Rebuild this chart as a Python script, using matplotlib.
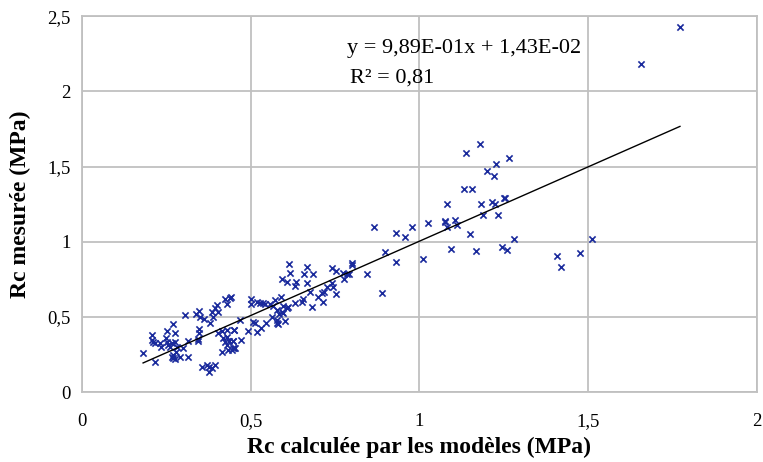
import numpy as np
import matplotlib
matplotlib.use("Agg")
from matplotlib import pyplot as plt

# Rc calculée (x) vs Rc mesurée (y)
rc_calc = [1.179, 1.138, 1.265, 1.227, 1.200, 1.221, 1.132, 1.156, 1.081, 1.182,
           1.215, 1.224, 1.250, 1.253, 1.076, 1.105, 1.081, 1.111, 1.188, 1.233,
           1.150, 1.280, 1.093, 1.167, 1.244, 1.259, 1.407, 1.419, 1.476, 1.511,
           1.772, 1.656,
           0.865, 0.930, 0.957, 0.978, 1.025, 1.076, 0.898, 0.930, 1.010, 0.800,
           0.800, 0.844, 0.889, 0.741, 0.752, 0.773, 0.785, 0.791, 0.776, 0.741,
           0.744, 0.752,
           0.613, 0.616, 0.667, 0.658, 0.684, 0.593, 0.607, 0.634, 0.631, 0.667,
           0.676, 0.726, 0.717, 0.711, 0.714, 0.681, 0.655, 0.652, 0.631, 0.699,
           0.501, 0.501, 0.519, 0.527, 0.536, 0.542, 0.557, 0.566, 0.572, 0.590,
           0.596, 0.607, 0.610, 0.578, 0.593, 0.584, 0.596, 0.563, 0.578, 0.578,
           0.581, 0.601, 0.468, 0.507, 0.513, 0.545, 0.530, 0.519, 0.492, 0.450,
           0.447, 0.471, 0.450, 0.444, 0.439,
           0.181, 0.216, 0.207, 0.207, 0.210, 0.216, 0.231, 0.234, 0.252, 0.249,
           0.252, 0.255, 0.261, 0.267, 0.270, 0.276, 0.276, 0.281, 0.279, 0.267,
           0.270, 0.276, 0.270, 0.290, 0.299, 0.314, 0.314, 0.305, 0.338, 0.347,
           0.350, 0.347, 0.347, 0.344, 0.344, 0.361, 0.379, 0.385, 0.388, 0.394,
           0.400, 0.403, 0.424, 0.430, 0.441, 0.356, 0.370, 0.376, 0.376, 0.394,
           0.385, 0.403, 0.415, 0.430, 0.450, 0.418, 0.424, 0.430, 0.430, 0.436,
           0.447, 0.415, 0.433, 0.447, 0.453]
rc_mes = [1.647, 1.588, 1.555, 1.515, 1.468, 1.435, 1.349, 1.349, 1.249, 1.249,
          1.262, 1.249, 1.289, 1.290, 1.136, 1.143, 1.096, 1.110, 1.176, 1.176,
          1.050, 1.017, 0.950, 0.937, 0.963, 0.944, 0.904, 0.831, 0.924, 1.017,
          2.425, 2.179,
          1.096, 1.056, 1.030, 1.096, 1.123, 1.130, 0.930, 0.864, 0.884, 0.857,
          0.844, 0.784, 0.658, 0.824, 0.804, 0.791, 0.784, 0.784, 0.751, 0.724,
          0.698, 0.651,
          0.850, 0.791, 0.831, 0.784, 0.784, 0.751, 0.731, 0.731, 0.704, 0.724,
          0.664, 0.698, 0.664, 0.658, 0.598, 0.565, 0.618, 0.598, 0.591, 0.631,
          0.618, 0.585, 0.598, 0.591, 0.591, 0.585, 0.585, 0.571, 0.611, 0.631,
          0.571, 0.558, 0.565, 0.545, 0.532, 0.518, 0.525, 0.498, 0.478, 0.458,
          0.452, 0.472, 0.478, 0.465, 0.458, 0.458, 0.425, 0.399, 0.405, 0.412,
          0.339, 0.346, 0.292, 0.279, 0.625,
          0.259, 0.199, 0.379, 0.346, 0.332, 0.326, 0.326, 0.299, 0.405, 0.359,
          0.332, 0.312, 0.299, 0.326, 0.452, 0.392, 0.332, 0.299, 0.266, 0.233,
          0.226, 0.219, 0.246, 0.233, 0.292, 0.233, 0.339, 0.512, 0.518, 0.538,
          0.498, 0.419, 0.392, 0.352, 0.339, 0.485, 0.458, 0.532, 0.498, 0.558,
          0.578, 0.532, 0.618, 0.585, 0.631, 0.166, 0.179, 0.166, 0.133, 0.179,
          0.159, 0.392, 0.405, 0.412, 0.412, 0.359, 0.332, 0.365, 0.312, 0.339,
          0.339, 0.266, 0.279, 0.292, 0.292]

slope = 0.989
intercept = 0.0143
x_ticks = [0, 0.5, 1, 1.5, 2]
x_tick_labels = ["0", "0,5", "1", "1,5", "2"]
y_ticks = [0, 0.5, 1, 1.5, 2, 2.5]
y_tick_labels = ["0", "0,5", "1", "1,5", "2", "2,5"]

plt.rcParams["font.family"] = ["Liberation Serif", "DejaVu Serif"]

fig = plt.figure(figsize=(7.63, 4.62), dpi=100)
ax = fig.add_axes([0.1075, 0.1515, 0.8845, 0.8135])

ax.scatter(rc_calc, rc_mes, marker="x", s=20, linewidths=1.2, color="#1a2a9c", zorder=3)

# linear trendline over the data range
xs = np.array([min(rc_calc), max(rc_calc)])
ax.plot(xs, slope * xs + intercept, color="black", linewidth=1, zorder=4)

ax.set_xlim(0, 2)
ax.set_ylim(0, 2.5)
ax.set_xticks(x_ticks)
ax.set_xticklabels(x_tick_labels)
ax.set_yticks(y_ticks)
ax.set_yticklabels(y_tick_labels)
ax.tick_params(length=0, labelsize=13.5)
ax.tick_params(axis="x", pad=15)
ax.tick_params(axis="y", pad=8)
ax.grid(True, color="#c0c0c0", linewidth=1.3)
ax.set_axisbelow(True)
for s in ax.spines.values():
    s.set_color("#c0c0c0")
    s.set_linewidth(1.3)

ax.text(0.785, 2.286, "y = 9,89E-01x + 1,43E-02", fontsize=16, va="center")
ax.text(0.793, 2.086, "R² = 0,81", fontsize=16, va="center")

ax.set_xlabel("Rc calculée par les modèles (MPa)", fontsize=17, fontweight="bold", labelpad=5)
ax.set_ylabel("Rc mesurée (MPa)", fontsize=17, fontweight="bold", labelpad=12)

fig.savefig("out.png", dpi=100)
